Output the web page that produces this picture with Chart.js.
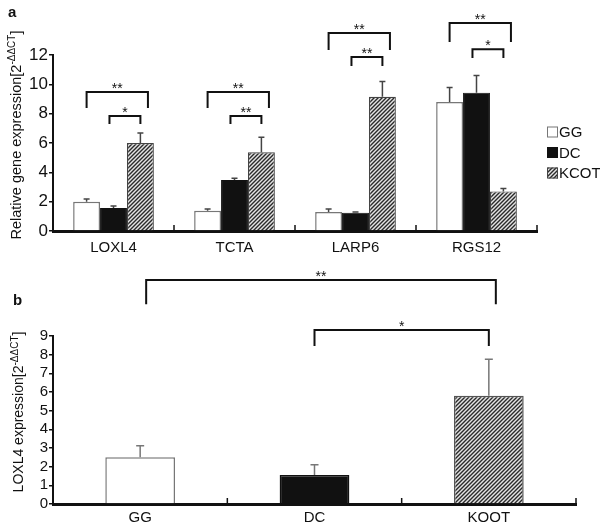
<!DOCTYPE html>
<html>
<head>
<meta charset="utf-8">
<script src="https://cdn.jsdelivr.net/npm/chart.js@4.4.0/dist/chart.umd.min.js"></script>
<style>
  body { margin: 0; background: #fff; width: 600px; height: 527px; overflow: hidden; position: relative; }
  canvas { position: absolute; left: 0; }
  #ca { top: 0; }
  #cb { top: 258px; }
</style>
</head>
<body>
<canvas id="ca" width="600" height="258" style="width:600px;height:258px"></canvas>
<canvas id="cb" width="600" height="269" style="width:600px;height:269px"></canvas>
<script>
// panel a
const genes = ['LOXL4', 'TCTA', 'LARP6', 'RGS12']
const ggA = [2.0, 1.38, 1.3, 8.8]
const ggErrA = [0.18, 0.12, 0.2, 0.98]
const dcA = [1.57, 3.47, 1.25, 9.42]
const dcErrA = [0.13, 0.13, 0.05, 1.18]
const kcotA = [6.0, 5.37, 9.15, 2.7]
const kcotErrA = [0.68, 1.03, 1.05, 0.2]
const yTicksA = [0, 2, 4, 6, 8, 10, 12]
// [category, from dataset, to dataset, bracket top, leg end, stars]
const sigA = [
	[0, 0, 2, 9.48, 8.38, '**'], [0, 1, 2, 7.84, 7.3, '*'],
	[1, 0, 2, 9.48, 8.38, '**'], [1, 1, 2, 7.84, 7.3, '**'],
	[2, 0, 2, 13.5, 12.34, '**'], [2, 1, 2, 11.86, 11.25, '**'],
	[3, 0, 2, 14.18, 12.88, '**'], [3, 1, 2, 12.4, 11.8, '*']
]

// panel b
const groupsB = ['GG', 'DC', 'KOOT']
const loxl4B = [2.5, 1.55, 5.8]
const loxl4ErrB = [0.62, 0.55, 1.95]
const yTicksB = [0, 1, 2, 3, 4, 5, 6, 7, 8, 9]
// [from category, to category, bracket top, leg end, stars]
const sigB = [
	[0, 2, 12.0, 10.7, '**'],
	[1, 2, 9.32, 8.46, '*']
]

const FONT = "'Liberation Sans', Arial, sans-serif"

function hatch() {
	var c = document.createElement('canvas')
	c.width = 4
	c.height = 4
	var g = c.getContext('2d')
	g.fillStyle = '#e4e4e4'
	g.fillRect(0, 0, 4, 4)
	g.strokeStyle = '#2a2a2a'
	g.lineWidth = 1.4
	g.beginPath()
	g.moveTo(0, 4); g.lineTo(4, 0)
	g.moveTo(-1, 1); g.lineTo(1, -1)
	g.moveTo(3, 5); g.lineTo(5, 3)
	g.stroke()
	return g.createPattern(c, 'repeat')
}
const stripes = hatch()

// vertical axis title with a superscript part
function yTitle(ctx, cx, cy, size, main, sup, tail) {
	ctx.save()
	ctx.translate(cx, cy)
	ctx.rotate(-Math.PI / 2)
	ctx.fillStyle = '#111'
	ctx.textBaseline = 'middle'
	ctx.textAlign = 'left'
	var big = size + 'px ' + FONT, small = Math.round(size * 0.68) + 'px ' + FONT
	ctx.font = big
	var w1 = ctx.measureText(main).width, w3 = ctx.measureText(tail).width
	ctx.font = small
	var w2 = ctx.measureText(sup).width
	var x0 = -(w1 + w2 + w3) / 2
	ctx.font = big
	ctx.fillText(main, x0, 0)
	ctx.font = small
	ctx.fillText(sup, x0 + w1, -size * 0.3)
	ctx.font = big
	ctx.fillText(tail, x0 + w1 + w2, 0)
	ctx.restore()
}

function bracket(ctx, y, x1, x2, top, leg, text) {
	var t = y.getPixelForValue(top), l = y.getPixelForValue(leg)
	ctx.strokeStyle = '#111'
	ctx.lineWidth = 2
	ctx.beginPath()
	ctx.moveTo(x1, l); ctx.lineTo(x1, t); ctx.lineTo(x2, t); ctx.lineTo(x2, l)
	ctx.stroke()
	ctx.fillStyle = '#111'
	ctx.font = '14px ' + FONT
	ctx.textAlign = 'center'
	ctx.textBaseline = 'alphabetic'
	ctx.fillText(text, (x1 + x2) / 2, t + 1)
}

const extras = {
	id: 'extras',
	afterDatasetsDraw(chart, args, opts) {
		var ctx = chart.ctx, y = chart.scales.y, area = chart.chartArea
		ctx.save()
		// error bars
		chart.data.datasets.forEach(function(ds, i) {
			chart.getDatasetMeta(i).data.forEach(function(bar, j) {
				var top = y.getPixelForValue(ds.data[j] + ds.err[j])
				ctx.strokeStyle = opts.errColor
				ctx.lineWidth = 1.5
				ctx.beginPath()
				ctx.moveTo(bar.x, bar.y); ctx.lineTo(bar.x, top)
				ctx.moveTo(bar.x - opts.cap, top); ctx.lineTo(bar.x + opts.cap, top)
				ctx.stroke()
			})
		})
		// small upward ticks between categories
		var n = chart.data.labels.length, step = area.width / n
		ctx.strokeStyle = '#111'
		ctx.lineWidth = 1.5
		for (var k = 1; k <= n; k++) {
			var px = area.left + k * step
			ctx.beginPath()
			ctx.moveTo(px, area.bottom); ctx.lineTo(px, area.bottom - 6)
			ctx.stroke()
		}
		opts.brackets(ctx, chart)
		opts.extra(ctx, chart)
		ctx.restore()
	}
}

function baseOptions(yTicks, xHeight, padding, tickFont) {
	return {
		responsive: false,
		animation: false,
		layout: { padding: padding },
		plugins: { legend: { display: false }, tooltip: { enabled: false } },
		scales: {
			x: {
				grid: { display: false, drawTicks: false },
				border: { color: '#111', width: 3 },
				ticks: { color: '#111', font: { family: FONT, size: 15 }, padding: 8 },
				afterFit: function(s) { s.height = xHeight }
			},
			y: {
				min: yTicks[0],
				max: yTicks[yTicks.length - 1],
				afterBuildTicks: function(s) { s.ticks = yTicks.map(function(v) { return { value: v } }) },
				grid: { drawOnChartArea: false, drawTicks: true, tickLength: 4, color: '#111', lineWidth: 1.5 },
				border: { color: '#111', width: 2 },
				ticks: { color: '#111', font: { family: FONT, size: tickFont }, padding: 1, autoSkip: false },
				afterFit: function(s) { s.width = 53 }
			}
		}
	}
}

// ---- panel a ----
var optA = baseOptions(yTicksA, 27, { top: 55, right: 63, left: 0, bottom: 0 }, 17)
optA.datasets = { bar: { categoryPercentage: 0.667, barPercentage: 1.0 } }
optA.plugins.extras = {
	errColor: '#444',
	cap: 3,
	brackets: function(ctx, chart) {
		var y = chart.scales.y
		sigA.forEach(function(s) {
			var b1 = chart.getDatasetMeta(s[1]).data[s[0]]
			var b2 = chart.getDatasetMeta(s[2]).data[s[0]]
			var x1 = b1.x, x2 = b2.x
			if (s[1] === 0) { x2 += b2.width * 0.28 } else { x1 -= b1.width * 0.15 }
			bracket(ctx, y, x1, x2, s[3], s[4], s[5])
		})
	},
	extra: function(ctx, chart) {
		ctx.fillStyle = '#111'
		ctx.font = 'bold 15px ' + FONT
		ctx.textAlign = 'left'
		ctx.textBaseline = 'alphabetic'
		ctx.fillText('a', 8, 17)
		yTitle(ctx, 17, 135, 14.5, 'Relative gene expression[2', '-\u0394\u0394CT', ']')
		// legend
		chart.data.datasets.forEach(function(ds, i) {
			var cy = 132 + i * 20.5
			ctx.fillStyle = ds.backgroundColor
			ctx.fillRect(547, cy - 5.5, 11, 11)
			ctx.strokeStyle = ds.borderColor
			ctx.lineWidth = 1
			ctx.strokeRect(547.5, cy - 5, 10, 10)
			ctx.fillStyle = '#111'
			ctx.font = '15px ' + FONT
			ctx.textBaseline = 'middle'
			ctx.fillText(ds.label, 559, cy + 1)
		})
	}
}

new Chart(document.getElementById('ca'), {
	type: 'bar',
	data: {
		labels: genes,
		datasets: [
			{ label: 'GG', data: ggA, err: ggErrA, backgroundColor: '#ffffff', borderColor: '#777', borderWidth: 1.5 },
			{ label: 'DC', data: dcA, err: dcErrA, backgroundColor: '#111111', borderColor: '#111', borderWidth: 1 },
			{ label: 'KCOT', data: kcotA, err: kcotErrA, backgroundColor: stripes, borderColor: '#444', borderWidth: 1.2 }
		]
	},
	options: optA,
	plugins: [extras]
})

// ---- panel b ----
var optB = baseOptions(yTicksB, 23, { top: 78, right: 24, left: 0, bottom: 0 }, 15)
optB.scales.x.ticks.padding = 5
optB.datasets = { bar: { categoryPercentage: 0.4, barPercentage: 1.0 } }
optB.plugins.extras = {
	errColor: '#777',
	cap: 4,
	brackets: function(ctx, chart) {
		var y = chart.scales.y, bars = chart.getDatasetMeta(0).data
		sigB.forEach(function(s) {
			bracket(ctx, y, bars[s[0]].x + (s[0] === 0 ? 6 : 0), bars[s[1]].x + (s[0] === 0 ? 7 : 0), s[2], s[3], s[4])
		})
	},
	extra: function(ctx, chart) {
		ctx.fillStyle = '#111'
		ctx.font = 'bold 15px ' + FONT
		ctx.textAlign = 'left'
		ctx.textBaseline = 'alphabetic'
		ctx.fillText('b', 13, 47)
		yTitle(ctx, 19, 154, 14, 'LOXL4 expression[2', '-\u0394\u0394CT', ']')
	}
}

new Chart(document.getElementById('cb'), {
	type: 'bar',
	data: {
		labels: groupsB,
		datasets: [{
			label: 'LOXL4',
			data: loxl4B,
			err: loxl4ErrB,
			backgroundColor: ['#ffffff', '#111111', stripes],
			borderColor: ['#777', '#111', '#555'],
			borderWidth: 1.5
		}]
	},
	options: optB,
	plugins: [extras]
})
</script>
</body>
</html>
